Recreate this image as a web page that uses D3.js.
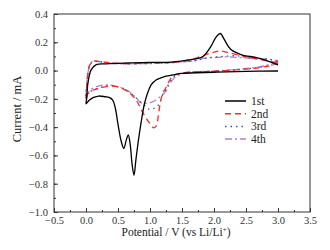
<!DOCTYPE html>
<html>
<head>
<meta charset="utf-8">
<script src="https://cdn.jsdelivr.net/npm/d3@7"></script>
<style>
  body { margin:0; background:#fff; }
  svg text { font-family: "Liberation Serif", "Times New Roman", serif !important; }
</style>
</head>
<body>
<svg id="drawing_region"></svg>
<script>
// cycle data: [potential (V), current (mA)], cathodic branch then anodic branch
const cycle1 = [
    [3.0,-0.003],[2.5,-0.006],[2.0,-0.012],[1.5,-0.02],[1.38,-0.028],[1.25,-0.04],[1.17,-0.052],
    [1.1,-0.065],[1.02,-0.10],[0.97,-0.15],[0.94,-0.19],[0.91,-0.24],[0.86,-0.37],[0.82,-0.49],
    [0.78,-0.63],[0.75,-0.74],[0.72,-0.66],[0.69,-0.52],[0.66,-0.455],[0.63,-0.49],[0.59,-0.55],
    [0.55,-0.50],[0.5,-0.38],[0.46,-0.27],[0.42,-0.21],[0.36,-0.19],[0.3,-0.185],[0.2,-0.18],
    [0.12,-0.19],[0.05,-0.21],[0.0,-0.235],
    [0.01,-0.2],[0.03,-0.09],[0.08,0.005],[0.16,0.042],[0.32,0.048],[0.7,0.054],[1.0,0.058],
    [1.33,0.06],[1.64,0.078],[1.82,0.097],[1.95,0.17],[2.03,0.235],[2.1,0.262],[2.16,0.22],
    [2.26,0.15],[2.42,0.113],[2.68,0.09],[2.89,0.06],[3.0,0.04]
];
const cycle2 = [
    [3.0,0.065],[2.95,0.045],[2.8,0.028],[2.5,0.01],[2.0,-0.005],[1.6,-0.012],[1.43,-0.025],
    [1.35,-0.04],[1.3,-0.075],[1.25,-0.12],[1.2,-0.16],[1.16,-0.23],[1.13,-0.32],[1.1,-0.39],
    [1.06,-0.405],[1.0,-0.375],[0.93,-0.33],[0.86,-0.275],[0.8,-0.22],[0.7,-0.165],[0.6,-0.135],
    [0.5,-0.115],[0.4,-0.11],[0.3,-0.115],[0.2,-0.125],[0.1,-0.14],[0.03,-0.165],[0.0,-0.21],
    [0.01,-0.12],[0.03,-0.02],[0.06,0.04],[0.12,0.068],[0.2,0.065],[0.45,0.052],[1.0,0.052],
    [1.4,0.06],[1.64,0.078],[1.85,0.11],[2.0,0.13],[2.1,0.138],[2.21,0.128],[2.47,0.1],
    [2.84,0.068],[3.0,0.055]
];
const cycle3 = [
    [3.0,0.05],[2.8,0.03],[2.5,0.012],[2.0,-0.005],[1.6,-0.012],[1.43,-0.025],[1.36,-0.05],
    [1.3,-0.09],[1.25,-0.13],[1.2,-0.17],[1.17,-0.205],[1.12,-0.25],[1.07,-0.265],[0.99,-0.275],
    [0.93,-0.25],[0.87,-0.23],[0.8,-0.2],[0.7,-0.16],[0.6,-0.13],[0.5,-0.115],[0.4,-0.105],
    [0.3,-0.11],[0.2,-0.125],[0.1,-0.14],[0.03,-0.16],[0.0,-0.19],
    [0.01,-0.11],[0.03,-0.02],[0.06,0.04],[0.12,0.065],[0.2,0.062],[0.45,0.05],[1.0,0.05],
    [1.4,0.058],[1.7,0.07],[1.85,0.085],[2.0,0.095],[2.16,0.1],[2.35,0.105],[2.47,0.095],
    [2.89,0.078],[3.0,0.065]
];
const cycle4 = [
    [3.0,0.07],[2.8,0.035],[2.5,0.015],[2.0,-0.003],[1.6,-0.012],[1.48,-0.028],[1.38,-0.052],
    [1.30,-0.099],[1.25,-0.146],[1.17,-0.18],[1.1,-0.205],[1.02,-0.225],[0.95,-0.23],[0.89,-0.233],
    [0.84,-0.22],[0.78,-0.19],[0.7,-0.157],[0.6,-0.13],[0.5,-0.115],[0.4,-0.105],[0.29,-0.10],
    [0.2,-0.11],[0.13,-0.12],[0.06,-0.14],[0.03,-0.157],[0.0,-0.18],
    [0.01,-0.1],[0.03,-0.017],[0.06,0.042],[0.11,0.068],[0.19,0.065],[0.45,0.05],[1.0,0.05],
    [1.4,0.058],[1.7,0.07],[1.85,0.088],[2.0,0.092],[2.2,0.097],[2.47,0.09],[2.89,0.078],[3.0,0.07]
];

const labels = ["1st", "2nd", "3rd", "4th"];
const xticks = [-0.5, 0.0, 0.5, 1.0, 1.5, 2.0, 2.5, 3.0, 3.5];
const yticks = [0.4, 0.2, 0.0, -0.2, -0.4, -0.6, -0.8, -1.0];

const series = [
    { name: labels[0], values: cycle1, color: "#000000", dash: null },
    { name: labels[1], values: cycle2, color: "#ff2a2a", dash: "6,4" },
    { name: labels[2], values: cycle3, color: "#2b5bc4", dash: "1.5,4" },
    { name: labels[3], values: cycle4, color: "#b57fc9", dash: "7,3,2,3" }
];

const config = {
    width: 330,
    height: 250,
    margin: {top:14, right:20, bottom:38, left:54}
};

const svg = d3.select("#drawing_region")
    .attr("width", config.width)
    .attr("height", config.height);

const inner_width = config.width - config.margin.left - config.margin.right;
const inner_height = config.height - config.margin.top - config.margin.bottom;

const chart = svg.append("g")
    .attr("transform", `translate(${config.margin.left}, ${config.margin.top})`);

const xscale = d3.scaleLinear().domain([-0.5, 3.5]).range([0, inner_width]);
const yscale = d3.scaleLinear().domain([-1.0, 0.4]).range([inner_height, 0]);

// minor ticks
const xminor = d3.range(-0.5, 3.5001, 0.25);
const yminor = d3.range(-1.0, 0.4001, 0.1);

chart.append("g")
    .attr("transform", `translate(0, ${inner_height})`)
    .call(d3.axisBottom(xscale).tickValues(xminor).tickSize(-2).tickFormat(""))
    .call(g => g.select(".domain").remove());

chart.append("g")
    .call(d3.axisLeft(yscale).tickValues(yminor).tickSize(-2).tickFormat(""))
    .call(g => g.select(".domain").remove());

const xaxis_group = chart.append("g")
    .attr("transform", `translate(0, ${inner_height})`)
    .call(d3.axisBottom(xscale).tickValues(xticks).tickSize(-4).tickPadding(5).tickFormat(d3.format(".1f")));
xaxis_group.select(".domain").remove();

const yaxis_group = chart.append("g")
    .call(d3.axisLeft(yscale).tickValues(yticks).tickSize(-4).tickPadding(6).tickFormat(d3.format(".1f")));
yaxis_group.select(".domain").remove();

chart.selectAll("g").attr("font-family", "Liberation Serif").attr("font-size", 10.5);
svg.selectAll(".tick text").attr("fill", "#333");
svg.selectAll(".tick line").attr("stroke", "#333");

// frame
chart.append("rect")
    .attr("width", inner_width)
    .attr("height", inner_height)
    .attr("fill", "none")
    .attr("stroke", "#333")
    .attr("stroke-width", 1);

const line = d3.line()
    .x(d => xscale(d[0]))
    .y(d => yscale(d[1]))
    .curve(d3.curveCatmullRom.alpha(0.5));

chart.selectAll(".cv")
    .data(series.slice().reverse())
    .enter()
    .append("path")
    .attr("class", "cv")
    .attr("d", d => line(d.values))
    .attr("fill", "none")
    .attr("stroke", d => d.color)
    .attr("stroke-width", 1.3)
    .attr("stroke-dasharray", d => d.dash);

// legend
const legend = svg.append("g")
    .attr("transform", "translate(225, 101)");

const items = legend.selectAll("g")
    .data(series)
    .enter()
    .append("g")
    .attr("transform", (d, i) => `translate(0, ${i * 12.7})`);

items.append("line")
    .attr("x1", 0).attr("x2", 21)
    .attr("stroke", d => d.color)
    .attr("stroke-width", 1.5)
    .attr("stroke-dasharray", d => d.dash);

items.append("text")
    .attr("x", 26)
    .attr("y", 4)
    .attr("font-size", 11.5)
    .attr("fill", "#222")
    .text(d => d.name);

// axis titles
const xtitle = svg.append("text")
    .attr("x", 176)
    .attr("y", 236)
    .attr("text-anchor", "middle")
    .attr("font-size", 11.5)
    .attr("fill", "#222");
xtitle.append("tspan").text("Potential / V (vs Li/Li");
xtitle.append("tspan").attr("font-size", 7).attr("dy", -4).text("+");
xtitle.append("tspan").attr("dy", 4).text(")");

svg.append("text")
    .attr("transform", "translate(21, 109) rotate(-90)")
    .attr("text-anchor", "middle")
    .attr("font-size", 12.5)
    .attr("fill", "#222")
    .text("Current / mA");
</script>
</body>
</html>
